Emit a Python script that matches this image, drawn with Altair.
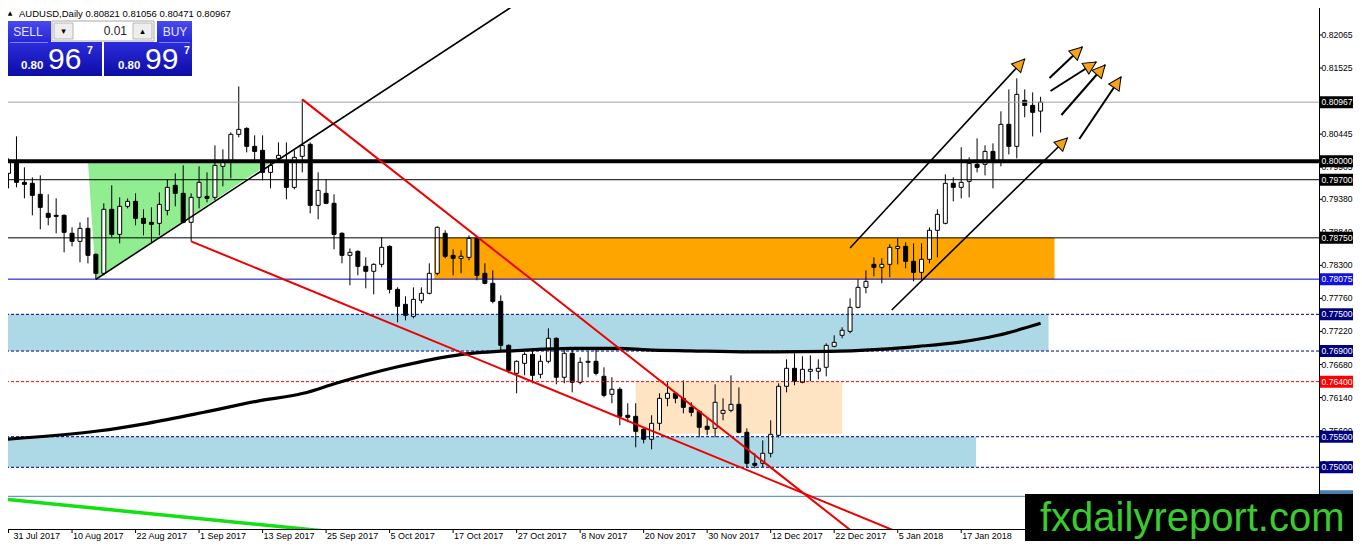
import math
import altair as alt
import pandas as pd

# ---------------- values ----------------
opens = [
    0.79804, 0.79984, 0.79657, 0.79641, 0.79461, 0.79150, 0.79118, 0.79118, 0.78824, 0.78693,
    0.78905, 0.78480, 0.78170, 0.79216, 0.78807, 0.79265, 0.79346, 0.79069, 0.79003, 0.78987,
    0.79199, 0.79608, 0.79477, 0.79003, 0.79412, 0.79428, 0.79412, 0.79918, 0.80016, 0.80441,
    0.80539, 0.80245, 0.80180, 0.79820, 0.80049, 0.79984, 0.79575, 0.80082, 0.80278, 0.79281,
    0.79477, 0.79314, 0.78824, 0.78464, 0.78529, 0.78284, 0.78203, 0.78317, 0.78611, 0.77908,
    0.77663, 0.77467, 0.77729, 0.77843, 0.78170, 0.78824, 0.78464, 0.78415, 0.78431, 0.78742,
    0.78170, 0.78007, 0.77712, 0.76993, 0.76536, 0.76699, 0.76846, 0.76520, 0.76732, 0.77108,
    0.76471, 0.76863, 0.76389, 0.76716, 0.76732, 0.76487, 0.76193, 0.76275, 0.75850, 0.75833,
    0.75621, 0.75458, 0.75719, 0.76127, 0.76209, 0.76127, 0.75980, 0.75915, 0.75670, 0.75637,
    0.75882, 0.75931, 0.76029, 0.75572, 0.75065, 0.75065, 0.75229, 0.75523, 0.76324, 0.76618,
    0.76389, 0.76569, 0.76569, 0.76634, 0.76977, 0.77157, 0.77222, 0.77614, 0.77941, 0.78317,
    0.78268, 0.78317, 0.78578, 0.78611, 0.78366, 0.78186, 0.78399, 0.78873, 0.78987, 0.79641,
    0.79575, 0.79673, 0.79951, 0.79951, 0.80163, 0.80016, 0.80605, 0.80245, 0.80997, 0.80915,
    0.80821]
highs = [
    0.80049, 0.80408, 0.79902, 0.79739, 0.79771, 0.79461, 0.79395, 0.79134, 0.78922, 0.79003,
    0.79085, 0.78497, 0.79314, 0.79608, 0.79412, 0.79395, 0.79477, 0.79216, 0.79248, 0.79493,
    0.79706, 0.79804, 0.79935, 0.79477, 0.79918, 0.79820, 0.80261, 0.80196, 0.80474, 0.81225,
    0.80556, 0.80425, 0.80425, 0.80016, 0.80310, 0.80310, 0.80180, 0.81013, 0.80310, 0.79820,
    0.79706, 0.79461, 0.78840, 0.78578, 0.78546, 0.78431, 0.78333, 0.78758, 0.78627, 0.77941,
    0.77794, 0.77941, 0.77941, 0.78333, 0.78938, 0.78873, 0.78562, 0.78546, 0.78791, 0.78758,
    0.78333, 0.78219, 0.77810, 0.77010, 0.76748, 0.76879, 0.76944, 0.76830, 0.77271, 0.77124,
    0.76928, 0.76961, 0.76797, 0.76895, 0.76928, 0.76634, 0.76471, 0.76307, 0.76046, 0.76046,
    0.75637, 0.75850, 0.76209, 0.76389, 0.76225, 0.76422, 0.76062, 0.75931, 0.75817, 0.76356,
    0.76127, 0.76503, 0.76307, 0.75637, 0.75229, 0.75441, 0.75768, 0.76373, 0.76765, 0.76863,
    0.76814, 0.76830, 0.76765, 0.77026, 0.77157, 0.77288, 0.77761, 0.78072, 0.78219, 0.78431,
    0.78415, 0.78644, 0.78742, 0.78676, 0.78660, 0.78660, 0.78922, 0.79216, 0.79788, 0.79739,
    0.80229, 0.80065, 0.80376, 0.80261, 0.80294, 0.80817, 0.81176, 0.81356, 0.81176, 0.81127,
    0.81056]
lows = [
    0.79559, 0.79575, 0.79395, 0.79118, 0.78889, 0.78954, 0.78824, 0.78513, 0.78611, 0.78350,
    0.78333, 0.78072, 0.78137, 0.78758, 0.78660, 0.79232, 0.78954, 0.78791, 0.78660, 0.78791,
    0.79118, 0.79265, 0.78987, 0.78693, 0.79232, 0.79330, 0.79363, 0.79592, 0.79722, 0.80392,
    0.80147, 0.80016, 0.79690, 0.79559, 0.80016, 0.79379, 0.79542, 0.79820, 0.79150, 0.79052,
    0.79300, 0.78562, 0.78333, 0.77974, 0.78137, 0.77925, 0.77827, 0.78268, 0.77843, 0.77369,
    0.77402, 0.77435, 0.77680, 0.77827, 0.78137, 0.78415, 0.78137, 0.78170, 0.78382, 0.78056,
    0.77990, 0.77680, 0.76912, 0.76536, 0.76209, 0.76503, 0.76373, 0.76454, 0.76699, 0.76356,
    0.76373, 0.76225, 0.76356, 0.76471, 0.76503, 0.76144, 0.76046, 0.75686, 0.75735, 0.75327,
    0.75392, 0.75294, 0.75605, 0.75997, 0.76046, 0.75882, 0.75833, 0.75490, 0.75523, 0.75490,
    0.75768, 0.75899, 0.75556, 0.75000, 0.74984, 0.75000, 0.75163, 0.75490, 0.76225, 0.76340,
    0.76373, 0.76405, 0.76438, 0.76487, 0.76961, 0.77108, 0.77190, 0.77598, 0.77843, 0.78121,
    0.78007, 0.78105, 0.78317, 0.78252, 0.78039, 0.78072, 0.78333, 0.78431, 0.78971, 0.79346,
    0.79395, 0.79412, 0.79820, 0.79771, 0.79559, 0.79918, 0.80114, 0.80049, 0.80719, 0.80408,
    0.80471]
closes = [
    0.79984, 0.79657, 0.79624, 0.79444, 0.79248, 0.79085, 0.79101, 0.78840, 0.78693, 0.78905,
    0.78464, 0.78170, 0.79216, 0.78807, 0.79265, 0.79346, 0.79069, 0.78987, 0.78971, 0.79297,
    0.79575, 0.79477, 0.79003, 0.79412, 0.79657, 0.79395, 0.79935, 0.80000, 0.80441, 0.80523,
    0.80245, 0.80163, 0.79820, 0.79935, 0.80098, 0.79575, 0.80065, 0.80261, 0.79281, 0.79526,
    0.79314, 0.78807, 0.78464, 0.78513, 0.78284, 0.78203, 0.78317, 0.78595, 0.77908, 0.77631,
    0.77484, 0.77745, 0.77843, 0.78170, 0.78922, 0.78448, 0.78415, 0.78448, 0.78742, 0.78137,
    0.78007, 0.77712, 0.76993, 0.76585, 0.76732, 0.76846, 0.76503, 0.76732, 0.77108, 0.76471,
    0.76863, 0.76389, 0.76716, 0.76732, 0.76536, 0.76176, 0.76275, 0.75833, 0.75817, 0.75588,
    0.75458, 0.75719, 0.76127, 0.76209, 0.76127, 0.75980, 0.75899, 0.75654, 0.75621, 0.76062,
    0.75931, 0.76029, 0.75572, 0.75065, 0.75033, 0.75229, 0.75539, 0.76324, 0.76618, 0.76405,
    0.76601, 0.76601, 0.76618, 0.76993, 0.77042, 0.77239, 0.77614, 0.77941, 0.78039, 0.78268,
    0.78317, 0.78595, 0.78611, 0.78366, 0.78186, 0.78399, 0.78873, 0.79134, 0.79641, 0.79575,
    0.79657, 0.79967, 0.79902, 0.80163, 0.80000, 0.80605, 0.80245, 0.81095, 0.80915, 0.80801,
    0.80967]

date_tick_idx = [0, 8, 16, 24, 32, 40, 48, 56, 64, 72, 80, 88, 96, 104, 112, 120]
date_labels = ["31 Jul 2017", "10 Aug 2017", "22 Aug 2017", "1 Sep 2017", "13 Sep 2017",
               "25 Sep 2017", "5 Oct 2017", "17 Oct 2017", "27 Oct 2017", "8 Nov 2017",
               "20 Nov 2017", "30 Nov 2017", "12 Dec 2017", "22 Dec 2017", "5 Jan 2018",
               "17 Jan 2018"]

price_ticks = [0.82065, 0.81525, 0.80445, 0.79905, 0.79380, 0.78840, 0.78300,
               0.77760, 0.77220, 0.76680, 0.76140, 0.75600, 0.75060]

# moving average read at sample positions
ma_idx = [-0.375, 11.25, 17.5, 24.625, 31.25, 37.125, 41.25, 48.75, 57.125, 64.625,
          70.875, 76.75, 80.5, 85.875, 93.375, 103.375, 109.625, 114.625, 119.625,
          124.625, 130.0]
ma_price = [0.75458, 0.75593, 0.75719, 0.75899, 0.76078, 0.76209, 0.76373, 0.76634,
            0.76846, 0.76912, 0.76944, 0.76944, 0.76920, 0.76904, 0.76887, 0.76895,
            0.76928, 0.76977, 0.77042, 0.77157, 0.77353]

# horizontal levels
level_bold = [0.80000]
level_black = [0.79700, 0.78750]
level_gray = [0.80967]
level_blue = [0.78075]
level_navy_dash = [0.77500, 0.76900, 0.75500, 0.75000]
level_red_dash = [0.76400]
level_steel = [0.74526]

# price tags on the right scale (the last one sits under the watermark)
tag_prices = [0.80967, 0.80000, 0.79700, 0.78750, 0.78075, 0.77500, 0.76900,
              0.76400, 0.75500, 0.75000, 0.74526]
tag_text_shown = 10

# zones (index range, price range)
zone_x1 = [-1.0, -1.0, 53.625, 79.0]
zone_x2 = [131.0, 121.875, 131.75, 105.0]
zone_p1 = [0.77500, 0.75500, 0.78750, 0.76400]
zone_p2 = [0.76900, 0.75000, 0.78075, 0.75550]

# green triangle
tri_idx = [10.0, 11.0, 33.25]
tri_lo = [0.80000, 0.78072, 0.80000]
tri_hi = [0.80000, 0.80000, 0.80000]

# trend lines
red_x1 = [37.0, 23.0]
red_p1 = [0.81013, 0.78693]
red_x2 = [106.875, 112.375]
red_p2 = [0.73889, 0.73922]

rise_x1 = [11.0]
rise_p1 = [0.78072]
rise_x2 = [64.625]
rise_p2 = [0.82631]

grn_x1 = [-0.375]
grn_p1 = [0.74477]
grn_x2 = [42.75]
grn_p2 = [0.73922]

# arrows (channel lines first, then the four short arrows)
arr_x1 = [106.0, 111.25, 131.125, 131.25, 132.625, 134.875]
arr_p1 = [0.78584, 0.77571, 0.81362, 0.81150, 0.80757, 0.80365]
arr_x2 = [128.0, 133.375, 135.25, 137.0, 138.125, 140.125]
arr_p2 = [0.81673, 0.80382, 0.81869, 0.81624, 0.81575, 0.81378]

header = "AUDUSD,Daily  0.80821 0.81056 0.80471 0.80967"

# ---------------- layout ----------------
W, H = 1311, 521
PAD_R, PAD_B = 34, 12
XDOM = [0.5625, 164.4375]
YDOM = [0.739917, 0.825061]
KX = W / (XDOM[1] - XDOM[0])
KY = H / (YDOM[1] - YDOM[0])
FONT = "Liberation Sans"

xs = alt.Scale(domain=XDOM, nice=False, zero=False)
ys = alt.Scale(domain=YDOM, nice=False, zero=False)


def X(f):
    return alt.X(f + ":Q", scale=xs, axis=None)


def Y(f):
    return alt.Y(f + ":Q", scale=ys, axis=None)


one = pd.DataFrame({"k": [0]})


def drect(x1, x2, y1, y2, **kw):
    return alt.Chart(one).mark_rect(**kw).encode(
        x=alt.value(x1), x2=alt.value(x2), y=alt.value(y1), y2=alt.value(y2))


def dtext(x, y, s, **kw):
    kw.setdefault("font", FONT)
    return alt.Chart(one).mark_text(**kw).encode(
        x=alt.value(x), y=alt.value(y), text=alt.value(s))


layers = []

# zones
zone_colors = ["#add8e6", "#add8e6", "#ffa500", "#ffe4c4"]
zdf = pd.DataFrame({"x1": zone_x1, "x2": zone_x2, "p1": zone_p1, "p2": zone_p2,
                    "c": zone_colors})
layers.append(alt.Chart(zdf).mark_rect(clip=True).encode(
    x=X("x1"), x2="x2", y=Y("p1"), y2="p2", fill=alt.Fill("c:N", scale=None)))

tdf = pd.DataFrame({"i": tri_idx, "lo": tri_lo, "hi": tri_hi})
layers.append(alt.Chart(tdf).mark_area(color="#90ee90", opacity=1, clip=True).encode(
    x=X("i"), y=Y("lo"), y2="hi"))

# candles
n = min(len(opens), len(highs), len(lows), len(closes))
cdf = pd.DataFrame({"idx": list(range(n)), "open": opens[:n], "high": highs[:n],
                    "low": lows[:n], "close": closes[:n]})
cdf["top"] = cdf[["open", "close"]].max(axis=1)
cdf["bot"] = cdf[["open", "close"]].min(axis=1)
cdf["fc"] = ["white" if c >= o else "black" for o, c in zip(cdf["open"], cdf["close"])]
layers.append(alt.Chart(cdf).mark_rule(color="black", strokeWidth=1, clip=True).encode(
    x=X("idx"), y=Y("low"), y2="high"))
layers.append(alt.Chart(cdf).mark_bar(width=4, stroke="black", strokeWidth=1, clip=True).encode(
    x=X("idx"), y=Y("top"), y2="bot", fill=alt.Fill("fc:N", scale=None)))


def hl(vals, **kw):
    return alt.Chart(pd.DataFrame({"p": vals})).mark_rule(clip=True, **kw).encode(y=Y("p"))


layers.append(hl(level_gray, color="#a0a0a0", strokeWidth=1))
layers.append(hl(level_black, color="black", strokeWidth=1))
layers.append(hl(level_blue, color="#0000c8", strokeWidth=1))
layers.append(hl(level_navy_dash, color="#000080", strokeWidth=1, strokeDash=[3, 2]))
layers.append(hl(level_red_dash, color="#ff0000", strokeWidth=1, strokeDash=[3, 2]))
layers.append(hl(level_steel, color="#4682b4", strokeWidth=1))
layers.append(hl(level_bold, color="black", strokeWidth=4))

# moving average
mdf = pd.DataFrame({"i": ma_idx, "p": ma_price})
layers.append(alt.Chart(mdf).mark_line(color="black", strokeWidth=3.2, interpolate="monotone",
                                       clip=True).encode(x=X("i"), y=Y("p")))


def seg(x1, p1, x2, p2, **kw):
    d = pd.DataFrame({"x1": x1, "p1": p1, "x2": x2, "p2": p2})
    return alt.Chart(d).mark_rule(clip=True, **kw).encode(
        x=X("x1"), y=Y("p1"), x2="x2", y2="p2")


layers.append(seg(red_x1, red_p1, red_x2, red_p2, color="#ee0000", strokeWidth=2))
layers.append(seg(rise_x1, rise_p1, rise_x2, rise_p2, color="black", strokeWidth=1.6))
layers.append(seg(grn_x1, grn_p1, grn_x2, grn_p2, color="#11e011", strokeWidth=3.5))
layers.append(seg(arr_x1[:2], arr_p1[:2], arr_x2[:2], arr_p2[:2], color="black", strokeWidth=1.6))
layers.append(seg(arr_x1[2:], arr_p1[2:], arr_x2[2:], arr_p2[2:], color="black", strokeWidth=2))

angles = [math.degrees(math.atan2((b - a) * KX, (q - p) * KY))
          for a, p, b, q in zip(arr_x1, arr_p1, arr_x2, arr_p2)]
adf = pd.DataFrame({"x2": arr_x2, "p2": arr_p2, "ang": angles})
layers.append(alt.Chart(adf).mark_point(shape="M0,0L0.5,1L-0.5,1Z", filled=True,
                                        fill="#f7a21b", stroke="black", strokeWidth=1,
                                        size=640, opacity=1).encode(
    x=X("x2"), y=Y("p2"), angle=alt.Angle("ang:Q", scale=None)))

# axes frame
layers.append(alt.Chart(one).mark_rule(color="black", strokeWidth=1).encode(
    x=alt.value(W + 0.5), y=alt.value(0), y2=alt.value(H + 0.5)))
layers.append(alt.Chart(one).mark_rule(color="black", strokeWidth=1).encode(
    x=alt.value(0), x2=alt.value(W + 0.5), y=alt.value(H + 0.5)))

# right price scale
pdf = pd.DataFrame({"p": price_ticks, "t": [f"{v:.5f}" for v in price_ticks]})
layers.append(alt.Chart(pdf).mark_rule(color="black", strokeWidth=1).encode(
    y=Y("p"), x=alt.value(W), x2=alt.value(W + 3)))
layers.append(alt.Chart(pdf).mark_text(align="left", baseline="middle", fontSize=8.6,
                                       font=FONT, color="black").encode(
    x=alt.value(W + 2.5), y=Y("p"), text="t:N"))

tag_colors = ["#000000", "#000000", "#000000", "#000000", "#1010e0", "#000080",
              "#000080", "#ff0000", "#000080", "#000080", "#4a7fb0"]
gdf = pd.DataFrame({"p": tag_prices, "c": tag_colors,
                    "t": [f"{v:.5f}" for v in tag_prices]})
layers.append(alt.Chart(gdf).mark_tick(orient="horizontal", size=42, thickness=12,
                                       opacity=1).encode(
    y=Y("p"), x=alt.value(W + 22), color=alt.Color("c:N", scale=None)))
layers.append(alt.Chart(gdf.iloc[:tag_text_shown]).mark_text(
    align="left", baseline="middle", fontSize=8.6, font=FONT, color="white").encode(
    x=alt.value(W + 2.5), y=Y("p"), text="t:N"))

# bottom date scale
ddf = pd.DataFrame({"i": date_tick_idx, "t": date_labels})
layers.append(alt.Chart(ddf).mark_rule(color="black", strokeWidth=1).encode(
    x=X("i"), y=alt.value(H), y2=alt.value(H + 4)))
layers.append(alt.Chart(ddf.iloc[:1]).mark_text(align="left", baseline="middle", fontSize=9,
                                                font=FONT, color="black", dx=5).encode(
    x=X("i"), y=alt.value(H + 6.5), text="t:N"))
layers.append(alt.Chart(ddf.iloc[1:]).mark_text(align="left", baseline="middle", fontSize=9,
                                                font=FONT, color="black", dx=1).encode(
    x=X("i"), y=alt.value(H + 6.5), text="t:N"))

# header line
layers.append(dtext(2, 5, "▲", fontSize=6, color="black", align="center", baseline="middle",
                    font="DejaVu Sans"))
layers.append(dtext(11, 5.5, header, fontSize=9.5, color="black", align="left",
                    baseline="middle"))

# one-click trading panel
g_top = alt.LinearGradient(gradient="linear", x1=0, y1=0, x2=0, y2=1,
                           stops=[alt.GradientStop(color="#4a4af0", offset=0),
                                  alt.GradientStop(color="#2626d6", offset=1)])
g_bot = alt.LinearGradient(gradient="linear", x1=0, y1=0, x2=0, y2=1,
                           stops=[alt.GradientStop(color="#2c2cdc", offset=0),
                                  alt.GradientStop(color="#0c0ca6", offset=1)])
layers.append(drect(-2, 43, 13, 34, fill=g_top))
layers.append(drect(149, 184, 13, 34, fill=g_top))
layers.append(drect(-2, 94, 34, 68, fill=g_bot))
layers.append(drect(96, 184, 34, 68, fill=g_bot))
layers.append(alt.Chart(one).mark_rule(color="#8080ff", strokeWidth=1).encode(
    x=alt.value(2), x2=alt.value(40), y=alt.value(34.5)))
layers.append(alt.Chart(one).mark_rule(color="#8080ff", strokeWidth=1).encode(
    x=alt.value(151), x2=alt.value(182), y=alt.value(34.5)))
layers.append(drect(44, 146, 13, 33, fill="white", stroke="#a8a8a8", strokeWidth=1))
layers.append(drect(46, 65, 15, 31, fill="#eeeeee", stroke="#b8b8b8", strokeWidth=1))
layers.append(drect(125, 144, 15, 31, fill="#eeeeee", stroke="#b8b8b8", strokeWidth=1))
layers.append(dtext(55.5, 23, "▾", fontSize=9, color="black", align="center",
                    baseline="middle", font="DejaVu Sans"))
layers.append(dtext(134.5, 23, "▴", fontSize=9, color="black", align="center",
                    baseline="middle", font="DejaVu Sans"))
layers.append(dtext(119, 23, "0.01", fontSize=12, color="#222222", align="right",
                    baseline="middle"))
layers.append(dtext(20, 24, "SELL", fontSize=12, color="#e4e4ff", align="center",
                    baseline="middle"))
layers.append(dtext(167, 24, "BUY", fontSize=12, color="#e4e4ff", align="center",
                    baseline="middle"))
for x0, big in ((13, "96"), (110, "99")):
    layers.append(dtext(x0, 61, "0.80", fontSize=11.5, fontWeight="bold", color="white",
                        align="left", baseline="alphabetic"))
    layers.append(dtext(x0 + 27, 61, big, fontSize=30, color="white", align="left",
                        baseline="alphabetic"))
    layers.append(dtext(x0 + 66, 46, "7", fontSize=10.5, fontWeight="bold", color="white",
                        align="left", baseline="alphabetic"))

# watermark
layers.append(drect(1017, W + PAD_R, 486, H + PAD_B, fill="black"))
layers.append(dtext(1032, 523, "fxdailyreport.com", fontSize=40, color="#3acb2f",
                    align="left", baseline="alphabetic"))

chart = alt.layer(*layers).properties(
    width=W, height=H,
    padding={"left": 0, "top": 0, "right": PAD_R, "bottom": PAD_B},
    autosize=alt.AutoSizeParams(type="none"),
    background="white",
).configure_view(strokeWidth=0)

chart.save("out.html", embed_options={"renderer": "svg", "actions": False})
